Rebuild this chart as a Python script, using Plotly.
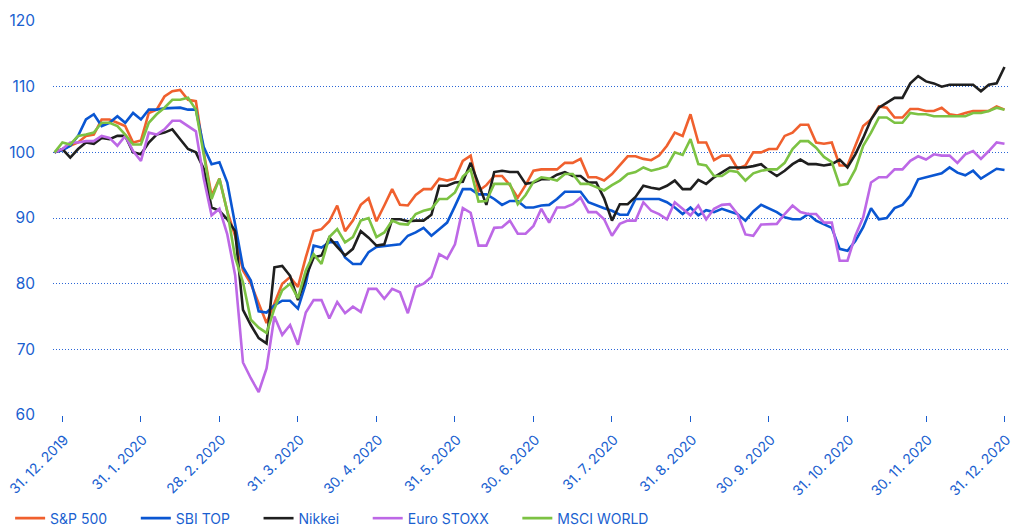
import plotly.graph_objects as go

# x position in months from 31.12.2019 (0) to 31.12.2020 (12)
x_pos = [round(-0.1 + 0.1 * i, 2) for i in range(122)]

tick_vals = list(range(13))
tick_text = ["31. 12. 2019", "31. 1. 2020", "28. 2. 2020", "31. 3. 2020", "30. 4. 2020",
             "31. 5. 2020", "30. 6. 2020", "31. 7. 2020", "31. 8. 2020", "30. 9. 2020",
             "31. 10. 2020", "30. 11. 2020", "31. 12. 2020"]

sp500 = [100,
 100.5, 101, 101.5, 102.5, 102.7, 105, 105, 104.5, 104, 101.5,
 101.8, 106, 106.5, 108.5, 109.3, 109.5, 108, 107.8, 100, 93.4,
 96, 91, 87.3, 82, 80, 77, 74, 77, 80, 81,
 79.5, 84, 88, 88.3, 89.5, 91.9, 88, 89.6, 92, 93,
 89.5, 91.9, 94.4, 92, 91.9, 93.5, 94.4, 94.4, 96, 95.7,
 96, 98.7, 99.5, 94.1, 95, 96.4, 96.4, 95, 93.1, 95,
 97.2, 97.4, 97.4, 97.4, 98.4, 98.4, 99, 96.2, 96.2, 95.7,
 96.7, 98, 99.4, 99.4, 99, 98.8, 99.5, 101, 103, 102.5,
 105.8, 101.5, 101.5, 98.8, 99.5, 99.5, 97.5, 98, 100, 100,
 100.5, 100.5, 102.5, 103, 104.2, 104.2, 101.5, 101.3, 101.5, 98,
 98, 101, 104, 105, 107, 106.8, 105.3, 105.3, 106.6, 106.6,
 106.3, 106.3, 106.8, 105.8, 105.6, 106, 106.3, 106.3, 106.3, 107,
 106.5]

sbi_top = [100,
 100.3, 101, 102.5, 105, 105.8, 104, 104.5, 105.5, 104.5, 106,
 105, 106.5, 106.5, 106.7, 106.8, 106.8, 106.5, 106.5, 100.8, 98.2,
 98.5, 95.4, 89, 82.5, 80.5, 75.8, 75.6, 76.7, 77.4, 77.4,
 76.2, 80, 85.8, 85.5, 86.3, 86.3, 84, 83, 83, 84.8,
 85.6, 85.7, 85.8, 86, 87.3, 87.8, 88.5, 87.3, 88.3, 89.3,
 91.8, 94.4, 94.4, 93.6, 93.6, 92.9, 92, 92.6, 92.6, 91.6,
 91.6, 91.9, 92, 92.9, 94, 94, 94, 92.4, 91.9, 91.5,
 91.1, 90.5, 90.5, 92.9, 92.9, 92.9, 92.9, 92.4, 91.6, 90.6,
 91.6, 90.4, 91.2, 90.9, 91.4, 91, 90.6, 89.6, 91, 92,
 91.5, 90.9, 90.1, 89.8, 89.8, 90.6, 89.6, 89.1, 88.5, 85.3,
 85, 86.5, 88.6, 91.5, 89.8, 90, 91.5, 92, 93.4, 95.9,
 96.2, 96.5, 96.8, 97.7, 96.9, 96.5, 97.2, 96, 96.7, 97.5,
 97.3]

nikkei = [100,
 100.5, 99.2, 100.5, 101.5, 101.3, 102.2, 102, 102.5, 102.5, 100,
 99.7, 101.5, 102.7, 103, 103.5, 102, 100.5, 100, 97.5, 91.6,
 91.1, 89.8, 88, 76, 73.7, 71.7, 70.9, 82.5, 82.7, 81.2,
 77.5, 81, 84, 84.3, 87, 85.6, 84.3, 85.3, 88, 87,
 85.8, 86, 89.8, 89.8, 89.5, 89.6, 89.6, 90.5, 94.9, 94.9,
 95.4, 95.5, 98.4, 95.2, 92, 97, 97.2, 97, 97, 95.2,
 95.4, 95.9, 95.9, 96.6, 97, 96.4, 96.4, 95.4, 95.4, 93,
 89.6, 92.1, 92.1, 93.2, 94.9, 94.6, 94.4, 94.9, 95.7, 94.4,
 94.4, 95.8, 95.2, 96.2, 96.9, 97.7, 97.7, 97.7, 97.9, 98.2,
 97.2, 96.4, 97.2, 98.2, 98.9, 98.2, 98.2, 98, 98.2, 98.9,
 97.7, 99.7, 102.2, 105, 106.8, 107.5, 108.3, 108.3, 110.5, 111.6,
 110.8, 110.5, 110, 110.3, 110.3, 110.3, 110.3, 109.3, 110.3, 110.5,
 113]

euro_stoxx = [100,
 100.5, 101.5, 101.5, 101.7, 101.7, 102.5, 102.2, 101, 102.5, 100.2,
 98.7, 103, 102.7, 103.5, 104.8, 104.8, 104, 103.2, 96, 90.4,
 91.4, 87.5, 81.3, 68, 65.6, 63.5, 67.1, 75, 72.2, 73.7,
 70.7, 75.6, 77.5, 77.5, 74.7, 77.2, 75.5, 76.5, 75.7, 79.2,
 79.2, 77.7, 79.2, 78.7, 75.5, 79.5, 80, 81, 84.5, 83.8,
 86, 91.5, 90.8, 85.8, 85.8, 88.5, 88.6, 89.6, 87.6, 87.6,
 88.8, 91.4, 89.3, 91.6, 91.6, 92.1, 93.1, 90.9, 90.9, 89.8,
 87.3, 89.1, 89.6, 89.6, 92.4, 91.1, 90.6, 89.8, 92.4, 91.4,
 90.4, 91.9, 89.8, 91.4, 92, 92.1, 90.6, 87.5, 87.3, 89,
 89.1, 89.1, 90.6, 91.9, 90.9, 90.6, 90.6, 89.3, 89.3, 83.5,
 83.5, 87.3, 90.1, 95.4, 96.2, 96.2, 97.4, 97.4, 98.7, 99.4,
 98.9, 99.7, 99.5, 99.5, 98.4, 99.7, 100.2, 99, 100.2, 101.5,
 101.3]

msci_world = [100,
 101.5, 101.2, 102.5, 102.7, 103, 104.5, 104.5, 104, 102.7, 101.2,
 101.2, 104.5, 105.8, 106.8, 108, 108, 108.3, 106.5, 100, 92.9,
 96, 91, 84, 80.2, 74.5, 73.3, 72.5, 76.2, 79, 80,
 77.8, 82, 84.5, 83, 87.1, 88.3, 86.3, 87.1, 89.6, 90,
 87.1, 87.8, 89.6, 89.1, 89, 90.6, 91.1, 91.4, 92.9, 92.9,
 93.9, 96.3, 97.4, 92.5, 92.6, 95.2, 95.2, 95.2, 92.1, 93.5,
 95.5, 96.2, 96, 95.7, 96.7, 96.7, 95.2, 95.2, 94.7, 94.2,
 95, 95.7, 96.7, 97, 97.7, 97.2, 97.5, 97.9, 100, 99.6,
 102, 98.2, 98, 96.4, 96.4, 97.2, 97, 95.7, 96.8, 97.2,
 97.4, 97.4, 98.4, 100.5, 101.7, 101.7, 100.7, 99.3, 98.5, 95,
 95.2, 97.4, 101, 103, 105.3, 105.3, 104.5, 104.5, 106, 105.8,
 105.8, 105.5, 105.5, 105.5, 105.5, 105.5, 106, 106, 106.3, 106.8,
 106.5]

series_names = ["S&P 500", "SBI TOP", "Nikkei", "Euro STOXX", "MSCI WORLD"]
series_values = [sp500, sbi_top, nikkei, euro_stoxx, msci_world]
series_colors = ["#f0602e", "#0a56d2", "#1f1f1f", "#bd68e6", "#7cc243"]

BLUE = "#1a5fd0"
FONT = "Inter, 'Noto Sans', sans-serif"
PAD = "\u00a0" * 6

fig = go.Figure()
for name, vals, col in zip(series_names, series_values, series_colors):
    fig.add_trace(go.Scatter(x=x_pos, y=vals, name=name + PAD, mode="lines",
                             line=dict(color=col, width=2.6)))

fig.update_layout(
    width=1012, height=527,
    margin=dict(l=53, r=2, t=21, b=112, autoexpand=False),
    paper_bgcolor="white", plot_bgcolor="white",
    font=dict(family=FONT, color=BLUE),
    showlegend=True,
    legend=dict(orientation="h", xref="container", yref="container",
                x=0.01, xanchor="left", y=0.016, yanchor="middle",
                font=dict(size=14, color=BLUE, family=FONT), itemwidth=30,
                traceorder="normal"),
)
fig.update_xaxes(
    range=[-0.12, 12.07], tickvals=tick_vals, ticktext=tick_text,
    tickangle=-45, tickfont=dict(size=14, color=BLUE, family=FONT),
    showgrid=False, zeroline=False, showline=False, automargin=False,
    ticks="outside", ticklen=6, tickcolor=BLUE, tickwidth=1,
    ticklabelshift=2, ticklabelstandoff=4, ticklabeloverflow="allow",
)
fig.update_yaxes(
    range=[60, 120], dtick=10, tick0=60,
    tickfont=dict(size=15.5, color=BLUE, family=FONT),
    showgrid=True, gridcolor="#2b66d6", gridwidth=1, griddash="1px,2px",
    zeroline=False, showline=False, ticks="", ticklabelstandoff=17,
    automargin=False,
)

fig.write_html("out.html", config={"displayModeBar": False},
               post_script="document.body.style.margin='0';document.body.style.overflow='hidden';")
